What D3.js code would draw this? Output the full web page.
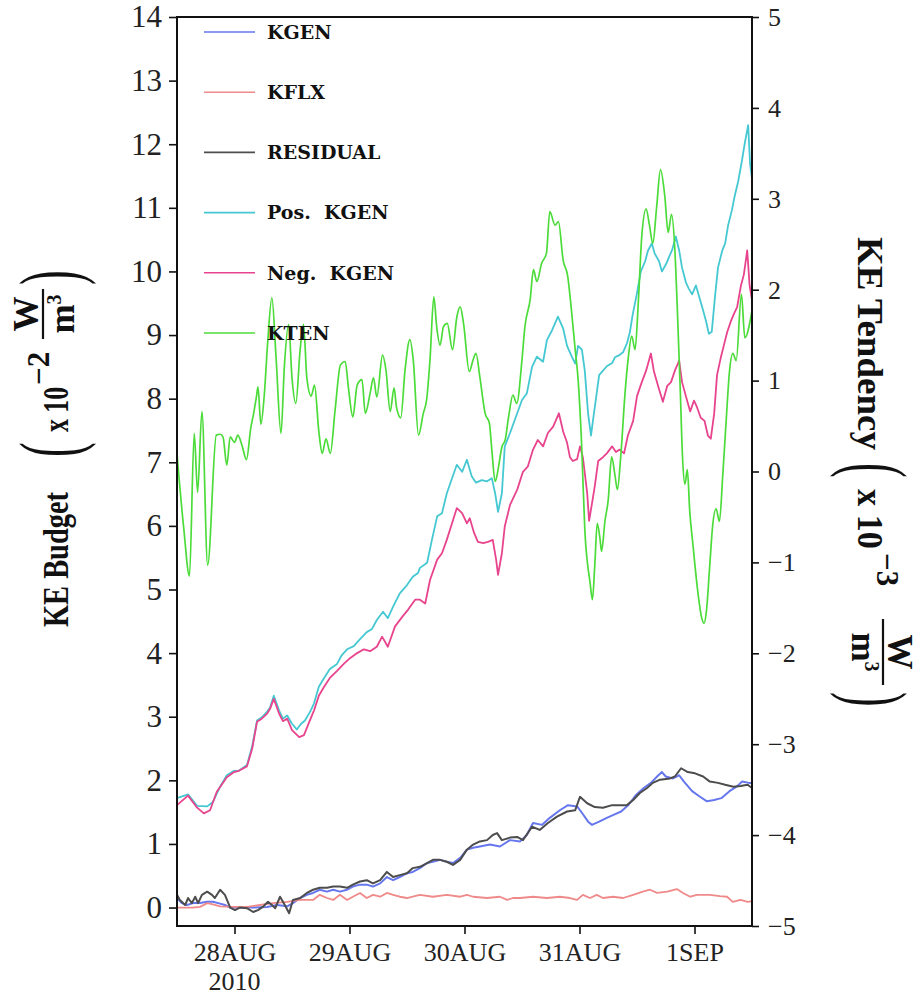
<!DOCTYPE html>
<html>
<head>
<meta charset="utf-8">
<script src="https://cdn.jsdelivr.net/npm/d3@7"></script>
<style>
  body { margin: 0; background: #fff; }
  svg { display: block; }
  .tick text { font-family: "Liberation Serif", serif; fill: #222; }
  .tick line { stroke: #111; stroke-width: 1.6; }
  .legend text { font-family: "DejaVu Serif", serif; font-weight: bold; font-size: 19px; fill: #111; }
  .ttl { font-family: "Liberation Serif", serif; font-weight: bold; font-size: 35px; fill: #111; }
  .sup { font-family: "Liberation Serif", serif; font-weight: bold; font-size: 31px; fill: #111; }
  .paren { font-family: "Liberation Serif", serif; font-size: 44px; fill: #111; }
</style>
</head>
<body>
<div id="chart"></div>
<script>
// hours after 27 Aug 2010 12:00 UTC, value
const kgen = [[0,0.15],[1.0,0.07],[2.1,0.04],[3.3,0.07],[4.8,0.07],[6.3,0.09],[7.5,0.09],[8.6,0.07],[10.0,0.04],[11.1,0.00],[13.1,0.00],[15.9,0.00],[18.8,0.01],[20.9,0.04],[23.0,0.02],[24.2,0.07],[25.7,0.15],[27.1,0.20],[28.4,0.23],[29.8,0.28],[31.3,0.25],[32.6,0.28],[34.0,0.25],[35.5,0.28],[36.7,0.33],[38.2,0.36],[39.6,0.36],[40.9,0.33],[42.4,0.38],[43.8,0.48],[45.1,0.43],[46.5,0.48],[48.0,0.54],[49.2,0.56],[50.7,0.62],[52.2,0.70],[53.4,0.72],[54.9,0.75],[56.3,0.72],[57.6,0.70],[59.1,0.78],[60.5,0.91],[61.8,0.94],[63.2,0.96],[65.3,0.99],[67.4,0.96],[69.5,1.06],[71.6,1.04],[73.0,1.14],[74.3,1.33],[76.2,1.30],[77.8,1.41],[79.9,1.53],[81.6,1.61],[83.5,1.59],[84.5,1.49],[85.8,1.35],[86.6,1.30],[88.1,1.35],[89.7,1.41],[91.2,1.46],[92.7,1.51],[94.3,1.62],[95.8,1.77],[97.4,1.88],[98.9,1.96],[100.2,2.06],[101.2,2.13],[102.0,2.06],[103.5,2.03],[104.8,2.08],[105.8,1.98],[107.5,1.83],[109.0,1.75],[110.6,1.67],[112.1,1.69],[113.6,1.72],[115.3,1.83],[116.8,1.90],[117.9,1.98],[119.4,1.96],[120,1.96]];

const kflx = [[0,0.00],[3.3,0.00],[4.8,0.01],[6.3,0.07],[7.5,0.05],[9.0,0.02],[11.7,0.01],[14.6,0.01],[17.3,0.04],[20.0,0.07],[23.0,0.09],[25.7,0.12],[28.4,0.12],[29.8,0.20],[31.3,0.15],[32.6,0.12],[34.0,0.20],[35.5,0.12],[36.7,0.17],[38.2,0.23],[39.6,0.15],[40.9,0.20],[42.4,0.17],[43.8,0.23],[45.1,0.20],[46.5,0.17],[48.0,0.15],[49.2,0.17],[50.7,0.20],[53.4,0.17],[56.3,0.20],[59.1,0.17],[60.5,0.20],[61.8,0.17],[64.7,0.15],[67.4,0.17],[68.9,0.12],[70.1,0.15],[71.6,0.15],[74.3,0.17],[77.2,0.15],[79.9,0.17],[82.0,0.15],[83.5,0.12],[84.7,0.20],[86.2,0.15],[87.6,0.20],[88.9,0.15],[91.0,0.17],[93.1,0.15],[95.2,0.20],[97.2,0.25],[98.7,0.28],[100.2,0.23],[102.3,0.25],[104.3,0.29],[105.6,0.23],[107.1,0.17],[108.5,0.20],[111.2,0.20],[113.3,0.18],[114.8,0.17],[116.0,0.09],[117.6,0.12],[119.1,0.09],[120,0.10]];

const residual = [[0,0.20],[0.6,0.12],[1.7,0.04],[2.3,0.15],[3.1,0.07],[3.8,0.17],[4.4,0.07],[5.2,0.20],[6.3,0.25],[7.3,0.20],[7.9,0.15],[9.0,0.28],[10.0,0.20],[11.1,0.00],[12.1,-0.04],[13.1,0.00],[14.6,-0.01],[15.9,-0.07],[16.9,-0.04],[17.9,0.01],[19.0,0.09],[19.8,0.04],[20.5,-0.01],[21.5,0.17],[22.5,0.04],[23.4,-0.09],[24.2,0.12],[25.7,0.15],[27.1,0.23],[28.4,0.28],[29.8,0.31],[31.3,0.31],[32.6,0.33],[34.0,0.33],[35.5,0.31],[36.7,0.36],[38.2,0.41],[39.6,0.43],[40.9,0.38],[42.4,0.43],[43.8,0.56],[45.1,0.48],[46.5,0.51],[48.0,0.54],[49.2,0.62],[50.7,0.64],[52.2,0.70],[53.4,0.75],[54.9,0.75],[56.3,0.72],[57.6,0.67],[59.1,0.75],[60.5,0.91],[61.8,0.99],[63.2,1.04],[64.7,1.06],[65.9,1.14],[66.8,1.17],[67.8,1.06],[69.5,1.10],[71.0,1.11],[72.2,1.06],[74.1,1.27],[75.7,1.22],[77.4,1.33],[79.3,1.43],[81.4,1.51],[83.1,1.53],[84.1,1.74],[85.6,1.64],[87.2,1.58],[88.9,1.57],[90.8,1.61],[92.4,1.61],[93.9,1.61],[95.2,1.69],[96.6,1.80],[98.1,1.88],[99.3,1.96],[100.8,2.01],[102.9,2.03],[103.9,2.06],[105.2,2.19],[106.6,2.13],[108.1,2.11],[109.8,2.06],[111.2,1.98],[112.9,1.96],[114.4,1.93],[116.1,1.90],[117.6,1.91],[119.1,1.93],[120,1.88]];

const posKgen = [[0,1.72],[2.3,1.78],[4.2,1.60],[6.3,1.59],[7.5,1.66],[9.0,1.90],[10.4,2.08],[11.9,2.15],[12.9,2.15],[14.6,2.24],[15.7,2.54],[16.7,2.94],[17.7,2.99],[18.8,3.08],[19.4,3.14],[20.2,3.33],[21.3,3.10],[22.1,2.97],[23.0,3.02],[24.0,2.89],[25.0,2.80],[25.9,2.89],[26.7,2.94],[27.8,3.08],[28.6,3.21],[29.6,3.47],[30.7,3.61],[31.9,3.75],[33.4,3.83],[34.4,3.97],[35.5,4.06],[36.9,4.11],[38.2,4.22],[39.6,4.33],[40.7,4.38],[41.7,4.52],[43.0,4.65],[44.0,4.55],[45.1,4.73],[46.5,4.94],[48.0,5.07],[49.2,5.20],[50.3,5.26],[50.7,5.34],[52.2,5.42],[53.2,5.78],[54.3,6.15],[55.3,6.20],[56.3,6.51],[57.4,6.75],[58.4,6.96],[59.5,6.85],[60.5,7.04],[61.5,6.78],[62.4,6.68],[63.6,6.72],[64.7,6.70],[65.7,6.75],[66.4,6.51],[67.0,6.22],[67.8,6.51],[68.4,7.25],[69.5,7.46],[71.0,7.77],[72.0,7.98],[73.0,8.08],[74.1,8.50],[75.1,8.66],[76.4,8.58],[77.2,8.92],[78.3,9.08],[79.5,9.29],[80.6,9.10],[81.4,8.83],[82.4,8.66],[83.1,8.55],[83.7,8.83],[84.5,8.77],[85.1,8.44],[85.8,7.76],[86.4,7.42],[86.8,7.65],[87.6,8.09],[88.1,8.37],[88.9,8.44],[89.7,8.51],[90.8,8.56],[91.4,8.65],[92.2,8.68],[93.1,8.73],[93.9,8.87],[94.5,9.04],[95.1,9.32],[96.0,9.66],[96.8,10.00],[97.7,10.16],[98.3,10.33],[99.1,10.44],[99.7,10.28],[100.6,10.16],[101.2,10.00],[102.1,10.12],[102.7,10.23],[103.3,10.33],[104.1,10.55],[104.8,10.33],[105.4,10.06],[106.2,9.83],[106.8,9.73],[107.5,9.64],[108.3,9.78],[108.9,9.62],[109.6,9.44],[110.4,9.22],[111.0,9.02],[111.6,9.05],[112.3,9.62],[112.9,10.06],[113.8,10.33],[114.4,10.44],[115.0,10.72],[115.8,10.96],[116.4,11.19],[117.1,11.41],[117.9,11.74],[118.5,12.02],[119.2,12.30],[119.6,11.69],[120,11.46]];

const negKgen = [[0,1.61],[2.3,1.76],[4.2,1.57],[5.6,1.48],[6.9,1.53],[8.3,1.82],[10.4,2.05],[11.9,2.13],[12.9,2.15],[14.6,2.22],[15.7,2.50],[16.7,2.92],[17.7,2.97],[18.8,3.05],[19.4,3.12],[20.2,3.28],[21.3,3.05],[22.1,2.93],[23.0,2.97],[24.0,2.79],[25.5,2.68],[26.5,2.71],[27.5,2.90],[28.6,3.10],[29.6,3.33],[30.7,3.47],[31.9,3.61],[33.4,3.72],[34.8,3.83],[36.1,3.92],[37.6,4.00],[39.0,4.06],[40.3,4.03],[41.7,4.10],[42.8,4.26],[44.0,4.10],[45.5,4.42],[47.0,4.57],[48.2,4.68],[49.7,4.84],[50.7,4.84],[51.8,4.78],[52.8,5.15],[54.3,5.47],[55.3,5.57],[56.3,5.78],[57.4,6.04],[58.4,6.28],[59.5,6.20],[60.5,6.04],[61.1,6.12],[62.0,5.89],[62.8,5.75],[63.9,5.73],[64.9,5.75],[65.9,5.78],[66.6,5.47],[67.0,5.23],[67.8,5.57],[68.4,5.99],[69.5,6.33],[71.0,6.57],[72.2,6.85],[73.2,6.93],[74.3,7.20],[75.3,7.35],[76.4,7.25],[77.4,7.46],[78.5,7.56],[79.7,7.77],[80.6,7.48],[81.4,7.31],[82.0,7.08],[82.6,7.02],[83.5,7.05],[84.1,7.25],[84.7,7.08],[85.6,6.52],[86.0,6.08],[86.6,6.35],[87.2,6.63],[87.9,7.02],[88.9,7.08],[89.7,7.14],[90.8,7.25],[91.6,7.16],[92.4,7.20],[93.3,7.14],[94.1,7.42],[95.2,7.65],[96.0,8.04],[97.0,8.26],[97.9,8.44],[98.9,8.71],[99.5,8.44],[100.4,8.20],[101.4,7.95],[102.3,8.20],[103.1,8.26],[103.9,8.44],[104.8,8.60],[105.4,8.26],[106.2,8.04],[107.1,7.80],[107.9,7.97],[108.5,7.87],[109.3,7.70],[110.1,7.65],[110.8,7.42],[111.4,7.37],[112.1,7.76],[112.7,8.37],[113.5,8.65],[114.1,8.83],[114.8,9.04],[115.6,9.22],[116.2,9.33],[116.9,9.44],[117.7,9.78],[118.3,9.95],[119.0,10.33],[119.5,9.78],[120,9.55]];

// KTEN is read against the right axis
const kten = [[0,0.19],[1.4,-0.62],[2.6,-1.15],[3.6,0.42],[4.3,-0.23],[5.2,0.66],[6.4,-1.03],[8.2,0.40],[9.0,0.41],[9.6,0.38],[10.4,0.07],[11.1,0.38],[12.0,0.32],[12.7,0.40],[13.6,0.28],[14.5,0.13],[15.4,0.48],[16.0,0.64],[16.6,0.83],[16.9,0.93],[17.5,0.52],[18.2,0.83],[18.9,1.40],[19.8,1.91],[20.7,1.23],[21.7,0.42],[22.4,1.15],[23.3,1.62],[24.0,1.03],[24.8,0.75],[25.7,1.34],[26.4,1.62],[27.1,1.03],[28.0,0.83],[28.7,0.95],[29.6,0.44],[30.3,0.20],[31.1,0.36],[32.0,0.20],[33.0,0.68],[34.1,1.17],[35.1,1.21],[35.8,0.91],[36.7,0.60],[37.6,0.95],[38.6,1.01],[39.3,0.64],[40.3,0.86],[41.0,1.03],[41.7,0.82],[42.9,1.28],[43.6,1.12],[44.5,0.66],[45.3,0.92],[45.8,0.71],[46.7,0.59],[47.6,1.12],[48.6,1.45],[49.3,1.23],[50.4,0.40],[51.4,0.64],[52.1,0.79],[52.8,1.23],[53.6,1.92],[54.2,1.59],[54.9,1.39],[55.6,1.59],[56.4,1.63],[57.5,1.34],[58.4,1.70],[59.1,1.81],[59.8,1.63],[61.0,1.10],[61.8,1.23],[62.4,1.30],[63.2,1.04],[64.3,0.64],[65.2,0.53],[65.7,0.24],[66.4,-0.11],[67.1,0.05],[67.8,0.27],[68.5,0.35],[69.2,0.60],[70.1,0.84],[70.9,0.75],[72.0,1.23],[72.6,1.59],[73.7,1.89],[74.4,2.22],[75.1,2.09],[76.1,2.29],[77.1,2.40],[77.8,2.86],[78.9,2.71],[79.6,2.75],[80.6,2.32],[81.5,2.16],[82.4,1.73],[83.1,1.34],[83.7,1.02],[84.4,0.35],[85.1,-0.63],[86.2,-1.22],[86.7,-1.41],[87.2,-1.02],[87.7,-0.57],[88.3,-0.75],[88.6,-0.88],[89.3,-0.55],[90.0,-0.31],[90.7,0.16],[91.4,-0.04],[91.9,-0.20],[92.6,0.16],[93.5,0.86],[94.2,1.26],[94.9,1.49],[95.6,1.34],[96.3,1.89],[97.0,2.59],[97.9,2.89],[98.6,2.71],[99.3,2.51],[100.1,2.91],[100.9,3.32],[101.8,3.03],[102.5,2.63],[103.2,2.83],[103.9,2.44],[104.4,1.81],[105.0,0.94],[105.5,0.16],[106.0,-0.14],[106.5,0.02],[107.0,-0.43],[107.7,-0.82],[108.8,-1.37],[109.5,-1.61],[110.0,-1.67],[110.5,-1.53],[111.2,-1.02],[111.8,-0.59],[112.5,-0.41],[113.2,-0.55],[113.9,-0.04],[114.6,0.55],[115.3,1.10],[116.0,1.30],[116.7,1.22],[117.8,1.95],[118.5,1.47],[120,1.77]];

const seriesNames = ["KGEN", "KFLX", "RESIDUAL", "Pos.  KGEN", "Neg.  KGEN", "KTEN"];
const seriesColors = ["#6677ee", "#f08a8a", "#4d4d4d", "#45c8d2", "#e8448e", "#4cdc3a"];
const leftTicks = d3.range(0, 15);
const rightTicks = d3.range(-5, 6);

const startTime = Date.UTC(2010, 7, 27, 12);
const width = 922, height = 996;
const plot = { left: 177, right: 752, top: 17, bottom: 926 };

const svg = d3.select("#chart").append("svg")
  .attr("width", width)
  .attr("height", height);

const x = d3.scaleUtc()
  .domain([new Date(startTime), new Date(startTime + 120 * 3600e3)])
  .range([plot.left, plot.right]);
const yLeft = d3.scaleLinear().domain([-0.29, 14]).range([plot.bottom, plot.top]);
const yRight = d3.scaleLinear().domain([-5, 5]).range([plot.bottom, plot.top]);

const hourToDate = (h) => new Date(startTime + h * 3600e3);

const lineLeft = d3.line().x((d) => x(hourToDate(d[0]))).y((d) => yLeft(d[1]));
const lineRight = d3.line()
  .curve(d3.curveMonotoneX)
  .x((d) => x(hourToDate(d[0])))
  .y((d) => yRight(d[1]));

// axes
const leftAxis = svg.append("g")
  .attr("transform", `translate(${plot.left},0)`)
  .call(d3.axisLeft(yLeft).tickValues(leftTicks).tickSize(8).tickPadding(7));
leftAxis.selectAll(".tick text").attr("font-size", 31);

const rightAxis = svg.append("g")
  .attr("transform", `translate(${plot.right},0)`)
  .call(d3.axisRight(yRight).tickValues(rightTicks).tickSize(7).tickPadding(9));
rightAxis.selectAll(".tick text").attr("font-size", 26);

const dayFormat = d3.utcFormat("%-d%b");
const bottomAxis = svg.append("g")
  .attr("transform", `translate(0,${plot.bottom})`)
  .call(d3.axisBottom(x)
    .ticks(d3.utcDay.every(1))
    .tickSize(8)
    .tickPadding(9)
    .tickFormat((d) => dayFormat(d).toUpperCase()));
bottomAxis.selectAll(".tick text").attr("font-size", 26);

svg.selectAll(".domain").remove();

const firstDay = x.ticks(d3.utcDay.every(1))[0];
svg.append("text")
  .attr("x", x(firstDay))
  .attr("y", 990)
  .attr("text-anchor", "middle")
  .attr("font-family", "Liberation Serif, serif")
  .attr("font-size", 26)
  .attr("fill", "#222")
  .text(d3.utcFormat("%Y")(firstDay));

// lines
const lines = svg.append("g").attr("fill", "none").attr("stroke-linejoin", "round");
const leftSeries = [kgen, kflx, residual, posKgen, negKgen];
const widths = [2, 1.8, 2, 1.8, 1.8];
leftSeries.forEach((data, i) => {
  lines.append("path")
    .attr("d", lineLeft(data))
    .attr("stroke", seriesColors[i])
    .attr("stroke-width", widths[i]);
});
lines.append("path")
  .attr("d", lineRight(kten))
  .attr("stroke", seriesColors[5])
  .attr("stroke-width", 1.7);

// frame
svg.append("rect")
  .attr("x", plot.left)
  .attr("y", plot.top)
  .attr("width", plot.right - plot.left)
  .attr("height", plot.bottom - plot.top)
  .attr("fill", "none")
  .attr("stroke", "#111")
  .attr("stroke-width", 2);

// legend
const legend = svg.append("g").attr("class", "legend");
seriesNames.forEach((name, i) => {
  const ly = 32 + i * 60.2;
  legend.append("line")
    .attr("x1", 204).attr("x2", 255)
    .attr("y1", ly).attr("y2", ly)
    .attr("stroke", seriesColors[i])
    .attr("stroke-width", 1.6);
  legend.append("text")
    .attr("x", 267)
    .attr("y", ly)
    .attr("dy", "0.36em")
    .style("white-space", "pre")
    .text(name);
});

// axis titles, laid out along the text direction
function drawTitle(g, spec) {
  g.append("text").attr("class", "ttl")
    .attr("textLength", spec.mainLen).attr("lengthAdjust", "spacingAndGlyphs")
    .text(spec.label);
  g.append("text").attr("class", "paren")
    .attr("transform", `translate(${spec.open},10) scale(1,1.9)`).text("(");
  g.append("text").attr("class", "ttl").attr("x", spec.times)
    .attr("textLength", spec.timesLen).attr("lengthAdjust", "spacingAndGlyphs")
    .text("x 10");
  g.append("text").attr("class", "sup").attr("x", spec.sup).attr("y", -19)
    .text(spec.exp);
  const cx = spec.frac + spec.fracLen / 2;
  g.append("text").attr("class", "ttl").attr("x", cx).attr("y", -30)
    .attr("text-anchor", "middle").text("W");
  g.append("line")
    .attr("x1", spec.frac).attr("x2", spec.frac + spec.fracLen)
    .attr("y1", -25).attr("y2", -25)
    .attr("stroke", "#111").attr("stroke-width", 2.2);
  const m = g.append("text").attr("class", "ttl").attr("x", cx).attr("y", 6)
    .attr("text-anchor", "middle");
  m.append("tspan").text("m");
  m.append("tspan").attr("font-size", 20).attr("dy", -13).text("3");
  g.append("text").attr("class", "paren")
    .attr("transform", `translate(${spec.close},10) scale(1,1.9)`).text(")");
}

drawTitle(svg.append("g").attr("transform", "translate(68,627) rotate(-90)"), {
  label: "KE Budget", mainLen: 135, open: 170, times: 195, timesLen: 45,
  sup: 242, exp: "\u22122", frac: 288, fracLen: 50, close: 342
});

drawTitle(svg.append("g").attr("transform", "translate(858,237) rotate(90)"), {
  label: "KE Tendency", mainLen: 213, open: 226, times: 252, timesLen: 60,
  sup: 316, exp: "\u22123", frac: 382, fracLen: 66, close: 455
});
</script>
</body>
</html>
